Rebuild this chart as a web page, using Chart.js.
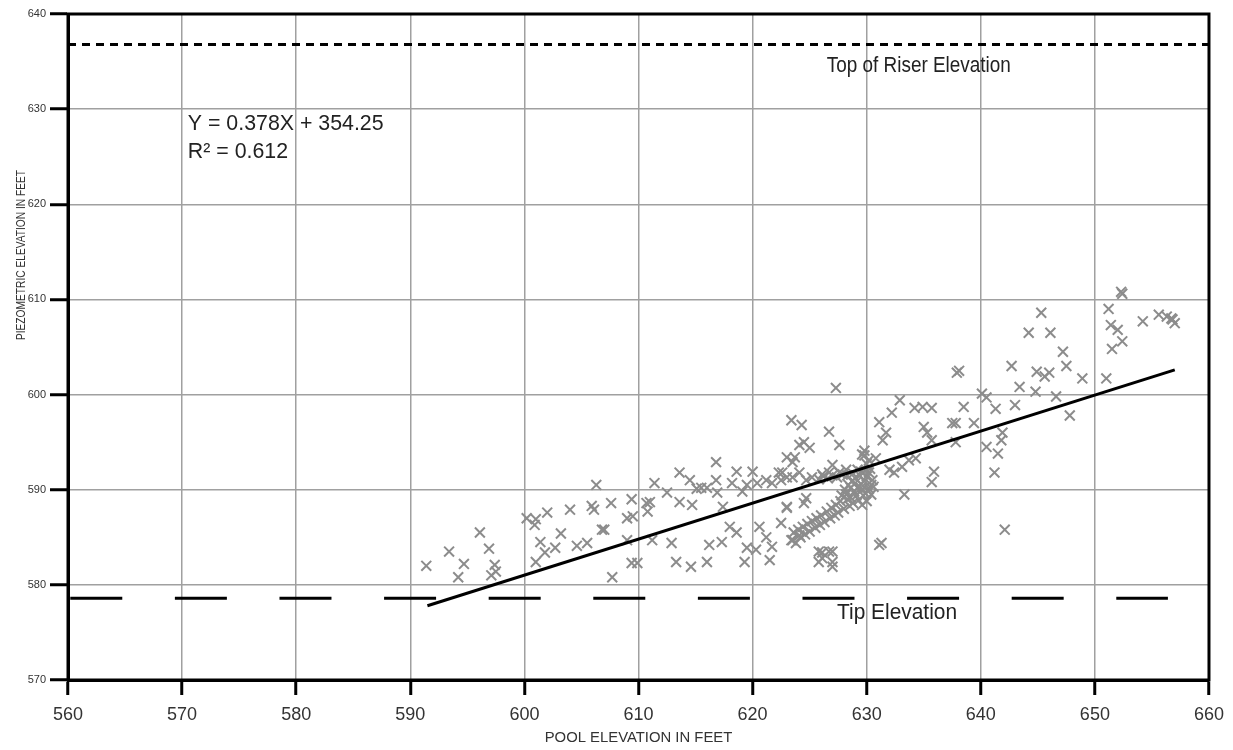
<!DOCTYPE html>
<html>
<head>
<meta charset="utf-8">
<script src="https://cdn.jsdelivr.net/npm/chart.js@4/dist/chart.umd.min.js"></script>
<style>
  body { margin: 0; background: #fff; }
  #wrap { width: 1233px; height: 750px; position: relative; }
</style>
</head>
<body>
<div id="wrap"><canvas id="piezoChart"></canvas></div>
<script>
// piezometer readings: [pool elevation, piezometric elevation], feet
const lowPool = [
  [591.4,582.0],[593.4,583.5],[594.2,580.8],[594.7,582.2],[596.1,585.5],[596.9,583.8],[597.4,582.1],
  [597.1,581.0],[597.5,581.4],[600.2,587.0],[601.0,586.9],[600.9,586.3],[602.0,587.6],[604.0,587.9],
  [605.9,588.3],[606.1,587.9],[606.3,590.5],[601.4,584.5],[603.2,585.4],[601.8,583.4],[602.7,583.9],
  [604.6,584.1],[605.5,584.4],[601.0,582.4],[606.8,585.8]
];
const midPool = [
  [607.6,588.6],[609.4,589.0],[607.0,585.8],[609.0,587.0],[609.5,587.2],[610.7,588.6],[611.0,588.7],
  [610.8,587.7],[611.4,590.7],[612.5,589.7],[613.6,591.8],[614.5,591.0],[615.1,590.1],[615.5,590.2],
  [616.0,590.2],[614.7,588.4],[613.6,588.7],[616.8,592.9],[616.8,591.0],[616.9,589.7],[618.6,591.9],
  [618.2,590.7],[619.1,589.8],[620.0,591.9],[619.5,590.5],[620.4,590.7],[621.2,591.0],[621.7,590.7],
  [622.6,591.8],[622.5,591.0],[623.0,593.4],[623.5,592.9],[624.1,594.7],[623.5,591.3],[617.4,588.2],
  [607.7,580.8],[609.4,582.3],[609.9,582.3],[611.2,584.7],[612.9,584.4],[613.3,582.4],[614.6,581.9],
  [616.0,582.4],[616.2,584.2],[617.3,584.5],[618.0,586.1],[618.6,585.5],[619.3,582.4],[619.5,583.9],
  [620.3,583.7],[620.6,586.1],[621.2,585.0],[621.7,584.0],[621.5,582.6],[622.5,586.5],[623.0,588.1],
  [623.4,584.7],[623.8,584.4],[609.0,584.7]
];
const nearPool = [
  [627.3,600.7],[623.4,597.3],[624.3,596.8],[626.7,596.1],[627.6,594.7],[624.5,595.0],[625.0,594.4],
  [623.7,593.4],[627.0,592.6],[622.3,591.8],[623.0,591.3],[624.1,591.8],[624.7,591.0],[625.2,591.3],
  [626.1,591.6],[626.7,591.8],[627.6,591.8],[628.2,592.1],[624.7,589.1],[623.0,588.2],[624.5,588.6],
  [629.6,593.7],[629.8,594.1],[626.1,583.4],[627.0,581.9],[626.7,583.5],[625.8,583.5],[626.1,582.8],
  [627.0,583.5],[627.0,582.4],[625.8,582.4],[623.5,584.7],[624.1,585.2]
];
const clusterPool = [
  [628.6,589.2],[628.9,589.8],[629.2,590.2],[629.5,590.6],[629.8,590.9],[630.0,591.4],[630.2,591.8],
  [629.4,591.5],[629.0,591.2],[628.7,590.9],[628.4,590.5],[628.1,590.0],[627.8,589.4],[628.3,589.0],
  [628.8,588.6],[629.3,588.9],[629.7,589.4],[630.1,589.9],[630.4,590.5],[630.2,590.1],[629.9,589.6],
  [629.6,590.0],[629.1,589.4],[628.5,588.3],[628.0,588.0],[627.5,587.6],[627.2,587.3],[626.8,587.0],
  [626.3,586.6],[625.9,586.3],[625.5,586.0],[625.0,585.6],[624.6,585.3],[624.2,585.0],[630.3,592.2],
  [629.9,592.0],[629.5,591.9],[629.2,592.1],[628.8,591.7],[628.3,591.5],[627.9,591.6],[627.4,591.3],
  [627.0,591.5],[626.6,591.2],[626.2,591.4],[625.8,591.1],[630.5,591.0],[630.6,590.3],[630.4,589.5],
  [630.0,588.8],[629.6,588.4],[630.2,593.1],[629.8,593.6],[630.0,592.7],[629.5,590.2],[629.0,590.7],
  [628.6,590.2],[628.2,589.5],[627.7,588.8],[627.3,588.4],[626.9,588.1],[626.5,587.7],[626.0,587.3],
  [625.6,587.0],[625.2,586.7],[624.8,586.4],[624.4,586.1],[624.0,585.8],[623.6,585.5]
];
const upperPool = [
  [631.1,597.1],[631.4,595.2],[631.7,596.0],[632.2,598.1],[632.9,599.4],[634.2,598.6],[634.9,598.7],
  [635.7,598.6],[635.0,596.6],[635.3,596.0],[635.7,595.2],[637.5,597.0],[637.9,602.3],[630.8,593.3],
  [632.0,592.1],[632.4,591.8],[633.1,592.4],[633.7,593.1],[634.3,593.3],[635.9,591.9],[635.7,590.8],
  [633.3,589.5],[637.8,595.0],[631.3,584.4],[631.1,584.2]
];
const highPool = [
  [645.3,608.6],[644.2,606.5],[646.1,606.5],[647.2,604.5],[647.5,603.0],[648.9,601.7],[638.1,602.5],
  [642.7,603.0],[644.9,602.4],[645.6,601.9],[646.0,602.3],[643.4,600.8],[644.8,600.3],[646.6,599.8],
  [647.8,597.8],[643.0,598.9],[640.1,600.1],[640.5,599.7],[641.3,598.5],[638.5,598.7],[637.8,597.0],
  [639.4,597.0],[641.9,596.0],[641.8,595.2],[640.5,594.5],[641.5,593.8],[641.2,591.8],[642.1,585.8],
  [652.3,610.8],[652.4,610.6],[651.2,609.0],[651.4,607.3],[652.0,606.8],[652.4,605.6],[651.5,604.8],
  [654.2,607.7],[655.6,608.4],[656.3,608.2],[656.8,607.9],[657.0,607.5],[656.7,608.0],[651.0,601.7]
];

// regression line end points
const fitX = [591.5, 657.0];
const fitY = [577.8, 602.6];

const riserElev = 636.8;
const tipElev = 578.6;
const tipStart = 560.2;
const tipEnd = 656.4;

const xTicks = [560, 570, 580, 590, 600, 610, 620, 630, 640, 650, 660];
const yTicks = [570, 580, 590, 600, 610, 620, 630, 640];

const readings = [].concat(lowPool, midPool, nearPool, clusterPool, upperPool, highPool)
  .map(p => ({ x: p[0], y: p[1] }));

const sans = "'Liberation Sans', Arial, sans-serif";

// text notes, placed in data units; squeeze = horizontal compression like the narrow print
const notes = [
  { text: 'Top of Riser Elevation', x: 626.5, y: 634.5, size: 22, squeeze: 0.86 },
  { text: 'Y = 0.378X + 354.25', x: 570.5, y: 628.4, size: 22, squeeze: 0.97 },
  { text: 'R\u00B2 = 0.612', x: 570.5, y: 625.5, size: 22, squeeze: 0.97 },
  { text: 'Tip Elevation', x: 627.4, y: 577.0, size: 22, squeeze: 0.95 }
];

function squeezedText(ctx, text, x, y, squeeze) {
  ctx.save();
  ctx.translate(x, y);
  ctx.scale(squeeze, 1);
  ctx.fillText(text, 0, 0);
  ctx.restore();
}

const annotations = {
  id: 'annotations',
  afterDatasetsDraw(chart) {
    const { ctx, chartArea: a, scales } = chart;
    ctx.save();
    // frame
    ctx.strokeStyle = '#000';
    ctx.lineWidth = 3;
    ctx.strokeRect(a.left, a.top, a.right - a.left, a.bottom - a.top);

    ctx.fillStyle = '#222';
    ctx.textAlign = 'left';
    ctx.textBaseline = 'middle';
    notes.forEach(n => {
      ctx.font = n.size + 'px ' + sans;
      squeezedText(ctx, n.text, scales.x.getPixelForValue(n.x), scales.y.getPixelForValue(n.y), n.squeeze);
    });

    // axis titles
    ctx.fillStyle = '#333';
    ctx.textAlign = 'center';
    ctx.font = '15px ' + sans;
    squeezedText(ctx, 'POOL ELEVATION IN FEET', (a.left + a.right) / 2, 738, 0.99);
    ctx.translate(22, 255);
    ctx.rotate(-Math.PI / 2);
    ctx.font = '12px ' + sans;
    squeezedText(ctx, 'PIEZOMETRIC ELEVATION IN FEET', 0, 0, 0.85);
    ctx.restore();
  }
};

new Chart(document.getElementById('piezoChart'), {
  type: 'scatter',
  data: {
    datasets: [
      {
        type: 'line',
        data: fitX.map((x, i) => ({ x: x, y: fitY[i] })),
        borderColor: '#000',
        borderWidth: 3,
        pointRadius: 0,
        order: 0
      },
      {
        type: 'line',
        data: [{ x: 560, y: riserElev }, { x: 660, y: riserElev }],
        borderColor: '#000',
        borderWidth: 3,
        borderDash: [8, 6],
        pointRadius: 0,
        order: 0
      },
      {
        type: 'line',
        data: [{ x: tipStart, y: tipElev }, { x: tipEnd, y: tipElev }],
        borderColor: '#000',
        borderWidth: 3,
        borderDash: [52, 52.6],
        pointRadius: 0,
        order: 0
      },
      {
        data: readings,
        pointStyle: 'crossRot',
        pointRadius: 7,
        borderColor: '#8c8c8c',
        borderWidth: 2,
        order: 1
      }
    ]
  },
  options: {
    responsive: true,
    maintainAspectRatio: false,
    animation: false,
    layout: { padding: { top: 14, right: 23, left: 0, bottom: 0 } },
    plugins: { legend: { display: false }, tooltip: { enabled: false } },
    scales: {
      x: {
        type: 'linear',
        min: 560,
        max: 660,
        afterBuildTicks: s => { s.ticks = xTicks.map(v => ({ value: v })); },
        afterFit: s => { s.height = 70; },
        grid: { color: '#a0a0a0', lineWidth: 1.5, tickLength: 15, tickColor: '#000', tickWidth: 3 },
        border: { color: '#000', width: 3 },
        ticks: { color: '#333', font: { family: sans, size: 18 }, padding: 9, maxRotation: 0 }
      },
      y: {
        type: 'linear',
        min: 570,
        max: 640,
        afterBuildTicks: s => { s.ticks = yTicks.map(v => ({ value: v })); },
        afterFit: s => { s.width = 68; },
        grid: { color: '#a0a0a0', lineWidth: 1.5, tickLength: 18, tickColor: '#000', tickWidth: 3 },
        border: { color: '#000', width: 3 },
        ticks: { color: '#333', font: { family: sans, size: 11 }, padding: 4 }
      }
    }
  },
  plugins: [annotations]
});
</script>
</body>
</html>
